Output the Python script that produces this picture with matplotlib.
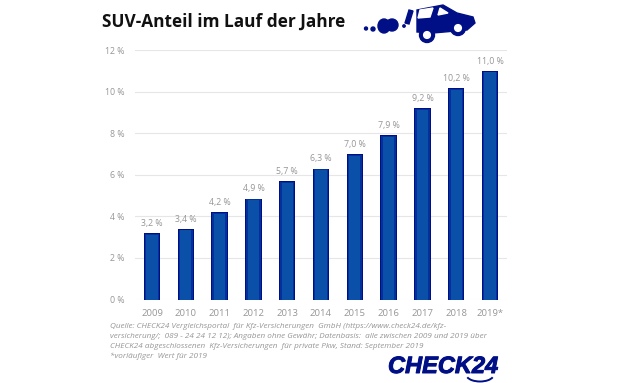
#!/usr/bin/python3

import matplotlib
matplotlib.use('Agg')
import matplotlib.pyplot as plt
import matplotlib.patheffects as pe
from matplotlib.patches import Circle, Ellipse, Polygon, Arc

years = ['2009', '2010', '2011', '2012', '2013', '2014', '2015', '2016', '2017', '2018', '2019*']
shares = [3.2, 3.4, 4.2, 4.85, 5.7, 6.3, 7.0, 7.9, 9.2, 10.15, 11.0]
labels = ['3,2 %', '3,4 %', '4,2 %', '4,9 %', '5,7 %', '6,3 %', '7,0 %', '7,9 %', '9,2 %', '10,2 %', '11,0 %']
yticks = [0, 2, 4, 6, 8, 10, 12]
source = ['Quelle: CHECK24 Vergleichsportal  für Kfz-Versicherungen  GmbH (https://www.check24.de/kfz-',
          'versicherung/;  089 - 24 24 12 12); Angaben ohne Gewähr; Datenbasis:  alle zwischen 2009 und 2019 über',
          'CHECK24 abgeschlossenen  Kfz-Versicherungen  für private Pkw, Stand: September 2019',
          '*vorläufiger  Wert für 2019']

W, H = 621, 383
NAVY = '#000f85'
MID = '#03309a'
BLUE = '#0a50a8'
GREY = '#969696'
plt.rcParams['font.family'] = ['Open Sans', 'DejaVu Sans']

fig = plt.figure(figsize=(W / 100, H / 100), dpi=100)
ax = fig.add_axes([135 / W, 1 - 299.5 / H, 372 / W, 249.5 / H])
x = range(len(years))

ax.bar(x, shares, width=0.49, color=NAVY, zorder=2)
ax.bar(x, [s - 0.04 for s in shares], width=0.43, color=MID, zorder=3)
ax.bar(x, [s - 0.08 for s in shares], width=0.33, color=BLUE, zorder=4)
for i, s in enumerate(shares):
  ax.text(i, s + 0.25, labels[i], ha='center', va='bottom', fontsize=6.3, color=GREY)

ax.set_xlim(-0.503, 10.503)
ax.set_ylim(0, 12)
ax.set_xticks(list(x), years)
ax.set_yticks(yticks, [f'{t} %' for t in yticks])
ax.tick_params(length=0, labelcolor=GREY)
ax.tick_params(axis='x', pad=6.5, labelsize=6.8)
ax.tick_params(axis='y', pad=7.5, labelsize=6.3)
ax.grid(axis='y', color='#e6e6e6', lw=0.8, zorder=0)
ax.set_axisbelow(True)
for s in ax.spines.values():
  s.set_visible(False)

# overlay in pixel coords for the title, icon and logo
ov = fig.add_axes([0, 0, 1, 1], facecolor='none')
ov.set_xlim(0, W)
ov.set_ylim(H, 0)
ov.axis('off')

ov.text(102, 27, 'SUV-Anteil im Lauf der Jahre', fontsize=12.4, fontweight='bold',
        color='#111111', va='baseline', ha='left')

# car icon
ov.add_patch(Polygon([(417, 10), (443, 5), (457, 13), (473, 17), (475, 23), (467, 30), (433, 33), (417, 32)],
                     color=NAVY, zorder=5))
ov.add_patch(Polygon([(420, 10), (433, 8), (430, 17), (418, 18)], color='white', zorder=6))
ov.add_patch(Polygon([(440, 8), (448, 13), (438, 15)], color='white', zorder=6))
for cx, cy, r in [(427, 35, 7.5), (458, 28, 7.5)]:
  ov.add_patch(Circle((cx, cy), r, color=NAVY, zorder=7))
  ov.add_patch(Circle((cx, cy), r * 0.45, color='white', zorder=8))
ov.add_patch(Polygon([(405, 23), (409, 10), (413, 11), (409, 24)], color=NAVY))
ov.add_patch(Circle((404, 26), 1.2, color=NAVY))
ov.add_patch(Ellipse((384, 26), 12, 14, color=NAVY))
ov.add_patch(Ellipse((392, 25), 12, 12, color=NAVY))
ov.add_patch(Circle((373, 29), 2, color=NAVY))
ov.add_patch(Circle((366, 28.5), 1.5, color=NAVY))

# source note
for i, line in enumerate(source):
  ov.text(110, 328.5 + i * 10, line, fontsize=5.87, style='italic', color=GREY, va='baseline', ha='left')

# logo
ov.text(388, 373, 'CHECK24', fontsize=17, fontweight='bold', style='italic', color=NAVY,
        family=['Liberation Sans'], va='baseline', ha='left',
        path_effects=[pe.withStroke(linewidth=0.7, foreground=NAVY)])
ov.add_patch(Arc((480, 375), 27, 13, theta1=10, theta2=170, color=NAVY, lw=1.4))

fig.savefig('out.png', dpi=100)
